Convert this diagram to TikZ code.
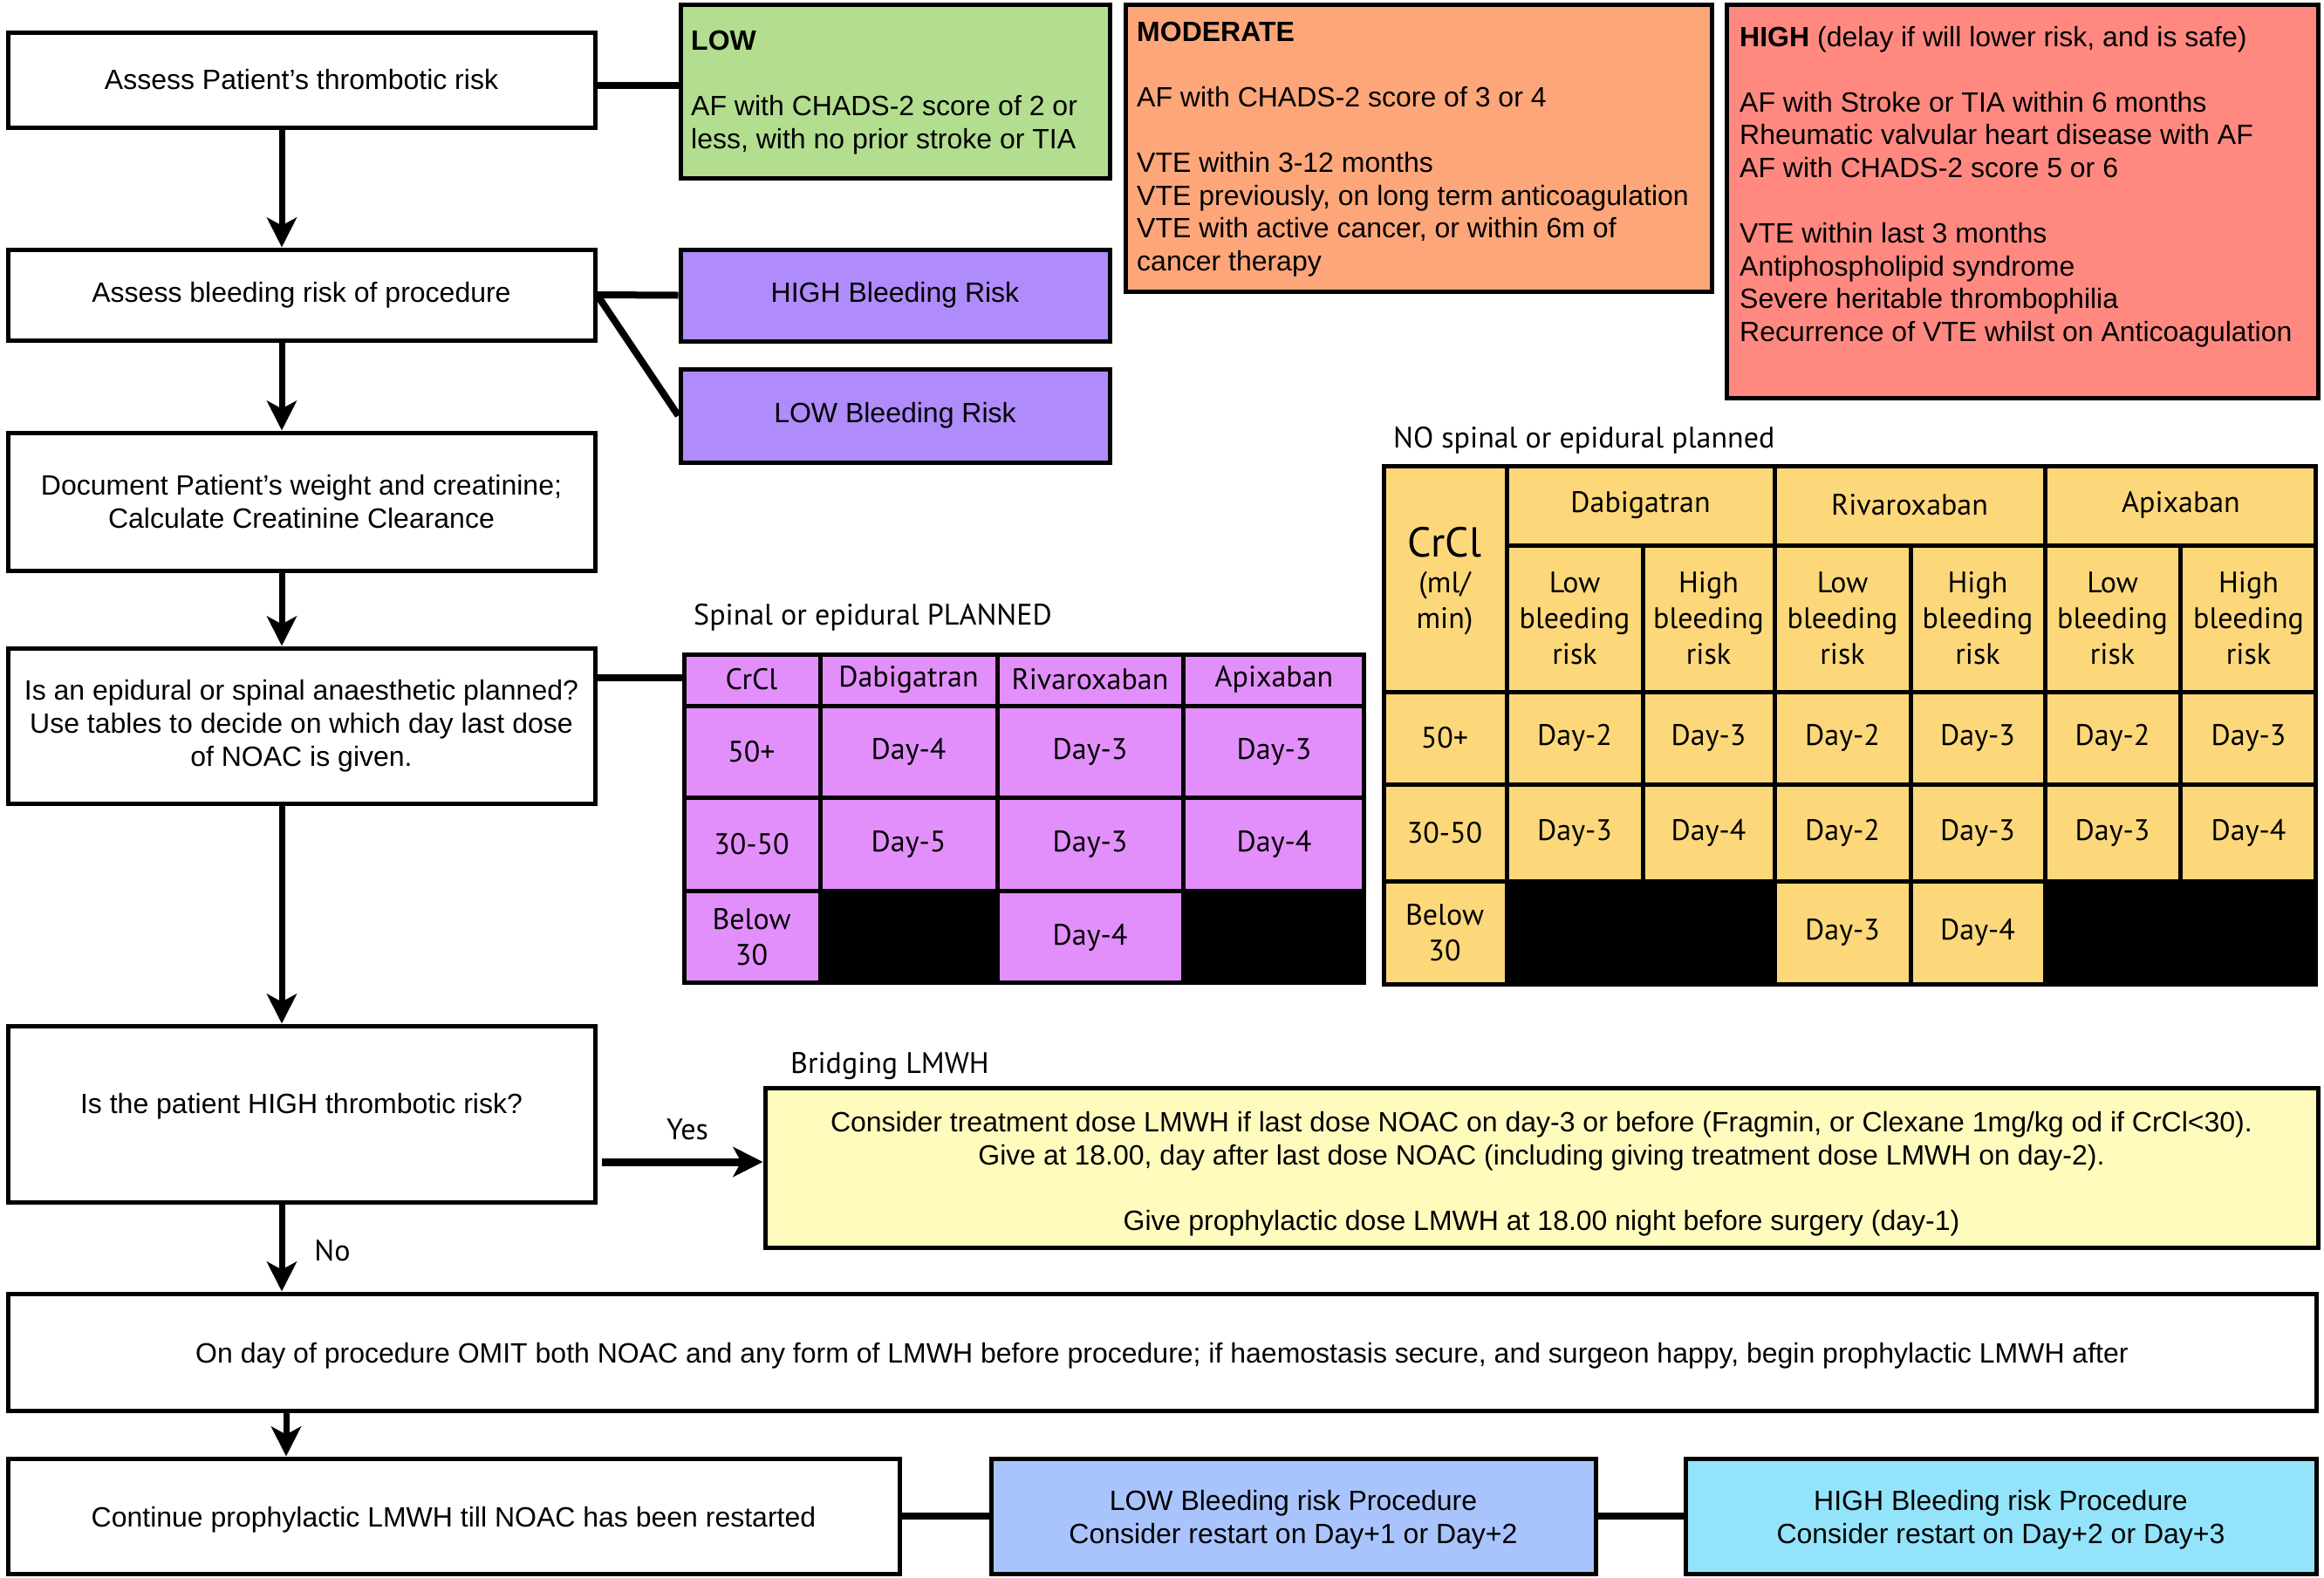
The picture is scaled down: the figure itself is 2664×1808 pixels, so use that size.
\documentclass[tikz,border=0pt]{standalone}
\usepackage{fontspec}
\setmainfont{Liberation Sans}
\newfontfamily\gill{PT Sans}
\usetikzlibrary{arrows.meta,calc}
\definecolor{cLow}{RGB}{179,221,143}
\definecolor{cMod}{RGB}{253,166,122}
\definecolor{cHigh}{RGB}{255,137,128}
\definecolor{cPurp}{RGB}{175,139,251}
\definecolor{cPtab}{RGB}{227,143,251}
\definecolor{cYtab}{RGB}{253,216,122}
\definecolor{cBridge}{RGB}{254,251,189}
\definecolor{cLowP}{RGB}{169,196,252}
\definecolor{cHighP}{RGB}{147,228,250}
\begin{document}
\begin{tikzpicture}[x=1pt,y=-1pt,
  box/.style={draw=black, line width=5pt, inner sep=0pt, align=center, font=\fontsize{32}{38}\selectfont},
  dim/.style 2 args={minimum width=#1pt, minimum height=#2pt},
  btxt/.style={inner sep=0pt, align=left, anchor=west, font=\fontsize{32}{37.6}\selectfont},
  ctxt/.style={inner sep=0pt, align=center, font=\fontsize{32}{38}\selectfont},
  conn/.style={line width=8pt},
  arr/.style={line width=7pt, -{Stealth[length=34pt,width=34pt,inset=9pt]}},
  tab/.style={font=\gill\fontsize{34}{41}\selectfont, align=center, inner sep=0pt},
  lab/.style={font=\gill\fontsize{34}{41}\selectfont, inner sep=0pt},
  grid5/.style={line width=5pt},
]
\useasboundingbox[fill=white] (0,0) rectangle (2664,1808);

% ---------- left column ----------
\node[box, fill=white, dim={673}{109}] (b1) at (345.5,91.5) {Assess Patient’s thrombotic risk};
\node[box, fill=white, dim={673}{104}] (b2) at (345.5,338) {Assess bleeding risk of procedure};
\node[box, fill=white, dim={673}{158}] (b3) at (345.5,575) {Document Patient’s weight and creatinine;\\Calculate Creatinine Clearance};
\node[box, fill=white, dim={673}{178}] (b4) at (345.5,832) {Is an epidural or spinal anaesthetic planned?\\Use tables to decide on which day last dose\\of NOAC is given.};
\node[box, fill=white, dim={673}{202}, text depth=24pt] (b5) at (345.5,1277) {Is the patient HIGH thrombotic risk?};
\node[box, fill=white, dim={2646}{134}] (b6) at (1332,1550) {};
\node[ctxt] (b6t) at (1332,1554) {On day of procedure OMIT both NOAC and any form of LMWH before procedure; if haemostasis secure, and surgeon happy, begin prophylactic LMWH after};
\node[box, fill=white, dim={1022}{132}] (b7) at (520,1738) {};
\node[ctxt] (b7t) at (520,1742) {Continue prophylactic LMWH till NOAC has been restarted};
\node[box, fill=cLowP, dim={693}{132}] (b8) at (1482.5,1738) {};
\node[ctxt] (b8t) at (1482.5,1742) {LOW Bleeding risk Procedure\\Consider restart on Day+1 or Day+2};
\node[box, fill=cHighP, dim={723}{132}] (b9) at (2293.5,1738) {};
\node[ctxt] (b9t) at (2293.5,1742) {HIGH Bleeding risk Procedure\\Consider restart on Day+2 or Day+3};

% ---------- risk boxes ----------
\node[box, fill=cLow, dim={492}{199}] (low) at (1026,104.5) {};
\node[btxt] (lowt) at (792,106) {\textbf{LOW}\\[37.6pt]AF with CHADS-2 score of 2 or\\less, with no prior stroke or TIA};
\node[box, fill=cMod, dim={672}{329}] (mod) at (1626,169.5) {};
\node[btxt] (modt) at (1303,171) {\textbf{MODERATE}\\[37.6pt]AF with CHADS-2 score of 3 or 4\\[37.6pt]VTE within 3-12 months\\VTE previously, on long term anticoagulation\\VTE with active cancer, or within 6m of\\cancer therapy};
\node[box, fill=cHigh, dim={678}{451}] (high) at (2318,230.5) {};
\node[btxt] (hight) at (1994,214) {\textbf{HIGH} (delay if will lower risk, and is safe)\\[37.6pt]AF with Stroke or TIA within 6 months\\Rheumatic valvular heart disease with AF\\AF with CHADS-2 score 5 or 6\\[37.6pt]VTE within last 3 months\\Antiphospholipid syndrome\\Severe heritable thrombophilia\\Recurrence of VTE whilst on Anticoagulation};

\node[box, fill=cPurp, dim={492}{105}] (hbl) at (1026,338.5) {HIGH Bleeding Risk};
\node[box, fill=cPurp, dim={492}{107}] (lbl) at (1026,476.5) {LOW Bleeding Risk};

% ---------- bridging ----------
\node[box, fill=cBridge, dim={1780}{183}] (bridge) at (1767,1338.5) {};
\node[ctxt] (bridget) at (1767,1346) {Consider treatment dose LMWH if last dose NOAC on day-3 or before (Fragmin, or Clexane 1mg/kg od if CrCl<30).\\Give at 18.00, day after last dose NOAC (including giving treatment dose LMWH on day-2).\\[37pt]Give prophylactic dose LMWH at 18.00 night before surgery (day-1)};
\node[lab, anchor=west] (brl) at (906,1222) {Bridging LMWH};

% ---------- purple table ----------
\node[lab, anchor=west] (ptl) at (795,708) {Spinal or epidural PLANNED};
\node[fill=cPtab, inner sep=0pt, dim={778}{375}] (ptab) at (1174,938.5) {};
\fill[black] (940,1021) rectangle (1143,1126);
\fill[black] (1356,1021) rectangle (1563,1126);
\draw[grid5] (940,751) -- (940,1126) (1143,751) -- (1143,1126) (1356,751) -- (1356,1126);
\draw[grid5] (785,809) -- (1563,809) (785,914) -- (1563,914) (785,1021) -- (1563,1021);
\draw[grid5] (ptab.north west) rectangle (ptab.south east);
\foreach \x/\t [count=\i] in {861.5/CrCl,1041.5/Dabigatran,1249.5/Rivaroxaban,1460.5/Apixaban}
  \node[tab] (ph\i) at (\x,779) {\t};
\foreach \x/\t [count=\i] in {861.5/50+,1041.5/Day-4,1249.5/Day-3,1460.5/Day-3}
  \node[tab] (pa\i) at (\x,861.5) {\t};
\foreach \x/\t [count=\i] in {861.5/30-50,1041.5/Day-5,1249.5/Day-3,1460.5/Day-4}
  \node[tab] (pb\i) at (\x,967.5) {\t};
\node[tab] (pc1) at (861.5,1074.5) {Below\\30};
\node[tab] (pc3) at (1249.5,1074.5) {Day-4};

% ---------- yellow table ----------
\node[lab, anchor=west] (ytl) at (1597,505) {NO spinal or epidural planned};
\node[fill=cYtab, inner sep=0pt, dim={1067}{593}] (ytab) at (2120.5,831.5) {};
\fill[black] (1727,1010) rectangle (2034,1128);
\fill[black] (2344,1010) rectangle (2654,1128);
\draw[grid5] (1727,535) -- (1727,1128) (2034,535) -- (2034,1128) (2344,535) -- (2344,1128);
\draw[grid5] (1883,625) -- (1883,1128) (2190,625) -- (2190,1128) (2499,625) -- (2499,1128);
\draw[grid5] (1727,625) -- (2654,625);
\draw[grid5] (1587,793) -- (2654,793) (1587,899) -- (2654,899) (1587,1010) -- (2654,1010);
\draw[grid5] (ytab.north west) rectangle (ytab.south east);
\node[tab] (ycr) at (1656,666) {{\fontsize{48}{41}\selectfont CrCl}\\(ml/\\min)};
\foreach \x/\t [count=\i] in {1880.5/Dabigatran,2189/Rivaroxaban,2500/Apixaban}
  \node[tab] (yh\i) at (\x,579) {\t};
\foreach \x [count=\i] in {1805,2112,2421.5}
  \node[tab] (yl\i) at (\x,709) {Low\\bleeding\\risk};
\foreach \x [count=\i] in {1958.5,2267,2577.5}
  \node[tab] (yhh\i) at (\x,709) {High\\bleeding\\risk};
\foreach \x/\t [count=\i] in {1656/50+,1805/Day-2,1958.5/Day-3,2112/Day-2,2267/Day-3,2421.5/Day-2,2577.5/Day-3}
  \node[tab] (ya\i) at (\x,846) {\t};
\foreach \x/\t [count=\i] in {1656/30-50,1805/Day-3,1958.5/Day-4,2112/Day-2,2267/Day-3,2421.5/Day-3,2577.5/Day-4}
  \node[tab] (yb\i) at (\x,954.5) {\t};
\node[tab] (yc1) at (1656,1069) {Below\\30};
\node[tab] (yc4) at (2112,1069) {Day-3};
\node[tab] (yc5) at (2267,1069) {Day-4};

% ---------- connectors ----------
\coordinate (ya) at (323,0);
\coordinate (yb) at (328,0);
\coordinate (l98) at (0,98);
\coordinate (l777) at (0,777);
\coordinate (l1332) at (0,1332);
\draw[arr] (b1.south -| ya) -- (b2.north -| ya);
\draw[arr] (b2.south -| ya) -- (b3.north -| ya);
\draw[arr] (b3.south -| ya) -- (b4.north -| ya);
\draw[arr] (b4.south -| ya) -- (b5.north -| ya);
\draw[arr] (b5.south -| ya) -- (b6.north -| ya);
\draw[arr] (b6.south -| yb) -- (b7.north -| yb);
\draw[arr, line width=9pt] ([xshift=5pt]b5.east |- l1332) -- (bridge.west |- l1332);
\node[lab] (yes) at (788,1295) {Yes};
\node[lab] (no) at (381,1434) {No};
\draw[conn] (b1.east |- l98) -- (low.west |- l98);
\draw[conn] (b2.east) -- (hbl.west);
\draw[conn] (b2.east) -- (lbl.west);
\draw[conn] (b4.east |- l777) -- (ptab.west |- l777);
\draw[conn] (b7.east) -- (b8.west);
\draw[conn] (b8.east) -- (b9.west);
\end{tikzpicture}
\end{document}
